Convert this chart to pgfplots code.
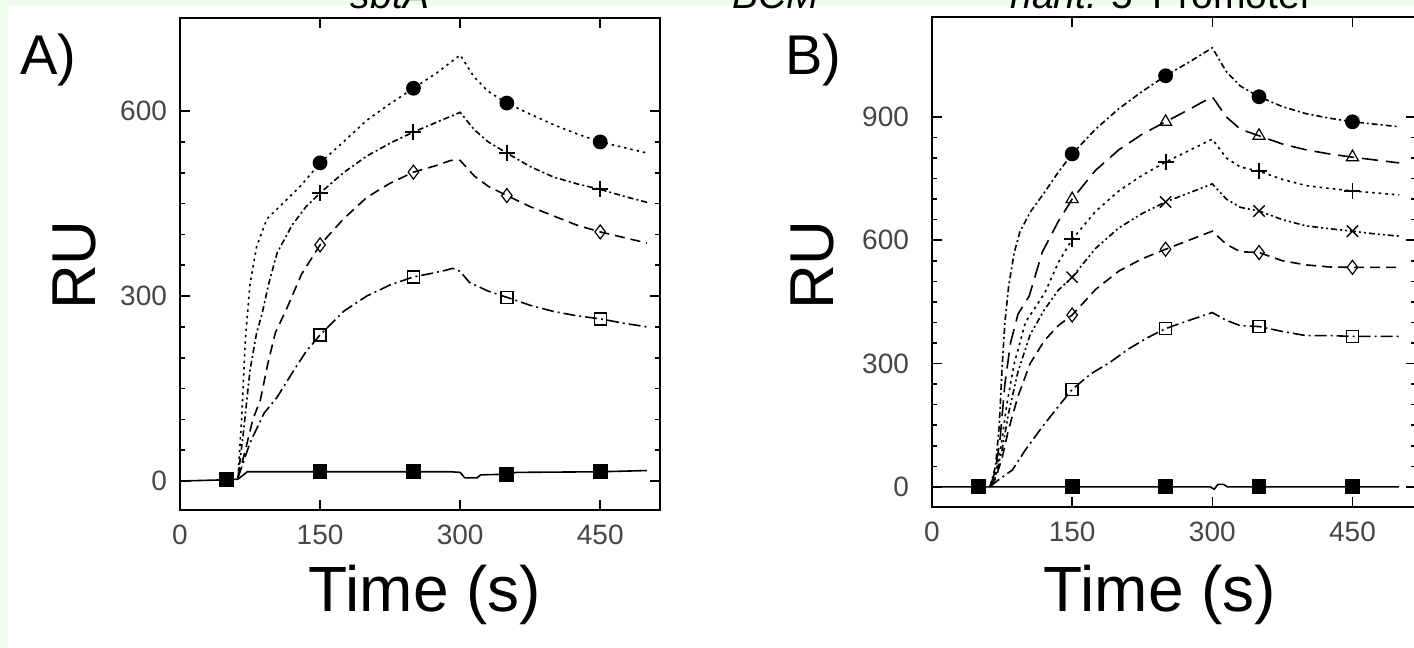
\documentclass[border=0pt]{standalone}
\usepackage{pgfplots}
\pgfplotsset{compat=1.18}
\usepackage{fontspec}
\setmainfont{Liberation Sans}
\definecolor{bggreen}{RGB}{240,252,238}
\definecolor{ticklab}{RGB}{70,70,70}

\pgfplotsset{spr/.style={
  scale only axis,
  axis line style={line width=1.2pt},
  tick align=inside,
  major tick length=5pt, minor tick length=2.5pt,
  tick style={line width=0.8pt, black},
  xtick={0,150,300,450},
  minor y tick num=5,
  ticklabel style={font=\fontsize{14}{14}\selectfont, text=ticklab},
  /pgf/number format/assume math mode=true,
  every axis plot/.append style={line width=0.8pt, black},
}}

\begin{document}
\begin{tikzpicture}
\useasboundingbox (0,0) rectangle (707pt,324pt);
\fill[bggreen] (0,0) rectangle (707pt,324pt);
\fill[white] (4pt,0) rectangle (707pt,321.5pt);

% headings cut off at the top
\begin{scope}[font=\fontsize{19.5}{19.5}\selectfont]
\node[anchor=base, inner sep=0] at (195pt,319.5pt) {\textit{sbtA}};
\node[anchor=base, inner sep=0] at (388pt,319.5pt) {\textit{BCM}};
\node[anchor=base west, inner sep=0] at (505pt,319.5pt) {\textit{hant.} 5' Promoter};
\end{scope}

% panel A
\begin{axis}[spr, at={(90pt,69pt)}, anchor=south west,
  width=240pt, height=246pt,
  xmin=0, xmax=514, ymin=-47, ymax=751,
  ytick={0,300,600},
  yticklabel style={xshift=-3pt},
  xticklabel style={yshift=-4pt},
]
\addplot[dash pattern=on 1.2pt off 2pt] coordinates {
 (62,5)(66,100)(70,230)(75,320)(82,380)(93,425)(110,450)(130,480)(150,516)
 (175,550)(200,585)(225,612)(250,637)(275,662)(300,691)(315,655)(330,632)
 (350,613)(375,595)(400,578)(425,563)(450,550)(475,541)(500,532)};
\addplot[dash pattern=on 3pt off 1.5pt on 1pt off 1.5pt] coordinates {
 (62,5)(68,80)(75,180)(82,240)(88,272)(95,320)(104,370)(120,415)(135,445)
 (150,467)(175,500)(200,527)(225,548)(250,566)(275,582)(300,598)(315,570)
 (330,550)(350,532)(375,510)(400,493)(425,482)(450,473)(475,462)(500,452)};
\addplot[dash pattern=on 5pt off 3pt] coordinates {
 (62,5)(70,50)(78,100)(86,131)(94,190)(102,240)(115,282)(130,335)(150,383)
 (175,425)(200,460)(225,483)(250,501)(275,512)(290,520)(300,520)(315,495)
 (330,478)(350,463)(375,445)(400,430)(425,415)(450,404)(475,395)(500,386)};
\addplot[dash pattern=on 6pt off 2pt on 1pt off 2pt] coordinates {
 (62,5)(75,62)(90,110)(104,136)(120,175)(135,210)(150,237)(175,275)(200,300)
 (225,318)(250,331)(270,337)(285,342)(292,345)(300,340)(310,322)(330,308)
 (350,298)(375,285)(400,275)(425,268)(450,263)(475,256)(500,250)};
\addplot[solid] coordinates {
 (0,0)(50,2)(62,3)(68,10)(72,15)(150,15)(250,15)(290,15)(300,14)(305,5)
 (318,5)(322,10)(350,11)(360,14)(450,15)(500,17)};
% markers
\addplot[only marks, mark=*, mark size=3.3pt] coordinates {
 (150,516)(250,637)(350,613)(450,550)};
\addplot[only marks, mark=+, mark size=4pt, mark options={line width=1pt}] coordinates {
 (150,467)(250,566)(350,532)(450,473)};
\addplot[only marks, mark=diamond, mark size=3.5pt, mark options={fill=white, line width=0.6pt}] coordinates {
 (150,383)(250,501)(350,463)(450,404)};
\addplot[only marks, mark=square, mark size=3pt, mark options={fill=white, line width=0.7pt}] coordinates {
 (150,237)(250,331)(350,298)(450,263)};
\addplot[only marks, mark=square*, mark size=3.3pt] coordinates {
 (50,2)(150,15)(250,15)(350,11)(450,15)};
\end{axis}

% panel B
\begin{axis}[spr, at={(466pt,70.5pt)}, anchor=south west,
  width=242pt, height=245pt,
  xmin=0, xmax=518, ymin=-49, ymax=1143,
  ytick={0,300,600,900},
  yticklabel style={xshift=-8pt},
  xticklabel style={yshift=-4pt},
]
\addplot[dash pattern=on 3pt off 1.5pt on 1pt off 1.5pt] coordinates {
 (62,0)(68,50)(72,150)(75,290)(78,400)(82,488)(88,570)(94,620)(105,668)
 (120,715)(135,765)(150,810)(175,870)(200,920)(225,962)(250,1000)(275,1033)
 (300,1068)(315,1010)(330,975)(350,949)(375,925)(400,908)(425,897)(450,888)
 (475,882)(500,876)};
\addplot[dash pattern=on 8pt off 4pt] coordinates {
 (62,0)(68,40)(73,120)(78,250)(84,350)(92,420)(104,464)(118,571)(135,645)
 (150,700)(175,770)(200,820)(225,858)(250,888)(275,918)(300,949)(315,900)
 (330,870)(350,854)(375,834)(400,820)(425,810)(450,802)(475,795)(500,788)};
\addplot[dash pattern=on 1.3pt off 2pt] coordinates {
 (62,0)(68,30)(74,100)(80,200)(88,300)(100,400)(121,473)(135,545)(150,602)
 (175,670)(200,720)(225,758)(250,790)(275,818)(300,846)(315,800)(330,778)
 (350,768)(375,748)(400,733)(425,726)(450,720)(475,715)(500,710)};
\addplot[dash pattern=on 3pt off 1.5pt on 1pt off 1.5pt on 1pt off 1.5pt] coordinates {
 (62,0)(68,25)(75,90)(82,180)(92,280)(105,370)(120,430)(135,478)(150,510)
 (175,580)(200,630)(225,665)(250,693)(275,715)(300,737)(315,700)(330,680)
 (350,671)(375,650)(400,635)(425,628)(450,622)(475,615)(500,610)};
\addplot[dash pattern=on 5pt off 3pt] coordinates {
 (62,0)(68,20)(75,70)(82,140)(92,220)(105,300)(120,355)(135,392)(150,418)
 (175,480)(200,525)(225,555)(250,578)(275,600)(300,622)(315,590)(330,572)
 (350,570)(375,550)(400,540)(425,535)(450,534)(475,534)(500,534)};
\addplot[dash pattern=on 6pt off 2pt on 1pt off 2pt] coordinates {
 (62,0)(70,15)(86,41)(100,90)(118,146)(135,195)(150,237)(170,275)(190,302)
 (210,335)(230,362)(250,385)(275,405)(300,424)(315,405)(330,392)(350,390)
 (375,378)(400,368)(425,368)(450,366)(475,366)(500,366)};
\addplot[solid] coordinates {
 (0,0)(50,0)(298,0)(302,-6)(306,6)(312,6)(316,0)(500,0)};
% markers
\addplot[only marks, mark=*, mark size=3.3pt] coordinates {
 (150,810)(250,1000)(350,949)(450,888)};
\addplot[only marks, mark=triangle, mark size=3.5pt, mark options={fill=white, line width=0.6pt}] coordinates {
 (150,700)(250,888)(350,854)(450,802)};
\addplot[only marks, mark=+, mark size=4pt, mark options={line width=0.9pt}] coordinates {
 (150,602)(250,790)(350,768)(450,720)};
\addplot[only marks, mark=x, mark size=4pt, mark options={line width=0.7pt}] coordinates {
 (150,510)(250,693)(350,671)(450,622)};
\addplot[only marks, mark=diamond, mark size=3.5pt, mark options={fill=white, line width=0.6pt}] coordinates {
 (150,418)(250,578)(350,570)(450,534)};
\addplot[only marks, mark=square, mark size=3pt, mark options={fill=white, line width=0.7pt}] coordinates {
 (150,237)(250,385)(350,390)(450,366)};
\addplot[only marks, mark=square*, mark size=3.3pt] coordinates {
 (50,0)(150,0)(250,0)(350,0)(450,0)};
\end{axis}

% panel letters and axis titles
\node[anchor=base west, inner sep=0, font=\fontsize{28}{28}\selectfont] at (10pt,286.5pt) {A)};
\node[anchor=base west, inner sep=0, font=\fontsize{28}{28}\selectfont] at (392.5pt,286.5pt) {B)};
\node[rotate=90, inner sep=0, font=\fontsize{31}{31}\selectfont] at (37pt,191.5pt) {RU};
\node[rotate=90, inner sep=0, font=\fontsize{31}{31}\selectfont] at (406pt,191.5pt) {RU};
\node[anchor=base, inner sep=0, font=\fontsize{32}{32}\selectfont] at (212.5pt,18pt) {Time (s)};
\node[anchor=base, inner sep=0, font=\fontsize{32}{32}\selectfont] at (580pt,18pt) {Time (s)};
\end{tikzpicture}
\end{document}
